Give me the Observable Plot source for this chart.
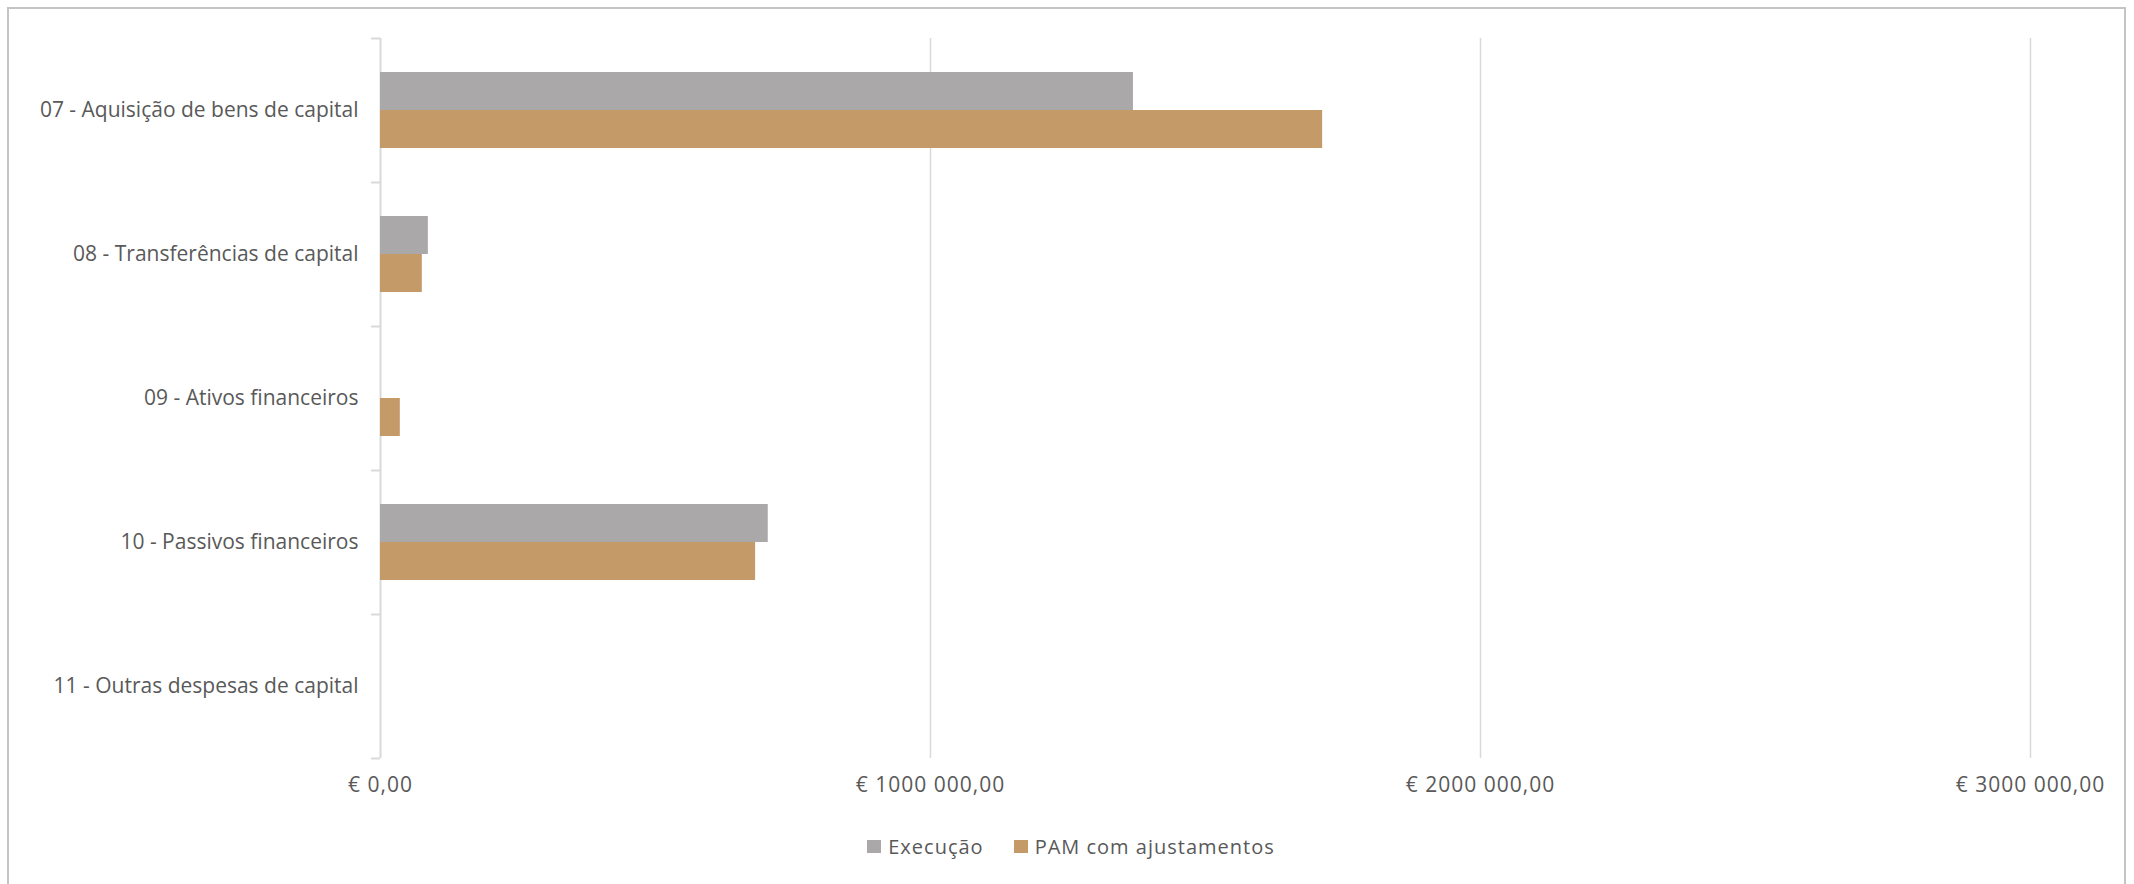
<!DOCTYPE html>
<html>
<head>
<meta charset="utf-8">
<script src="https://cdn.jsdelivr.net/npm/d3@7"></script>
<script src="https://cdn.jsdelivr.net/npm/@observablehq/plot@0.6"></script>
<style>
  html, body { margin: 0; padding: 0; background: #fff; }
  #wrap { position: relative; width: 2134px; height: 884px; overflow: hidden; font-family: "Open Sans", Lato, sans-serif; }
  #border { position: absolute; left: 7px; top: 7px; width: 2119px; height: 920px; border: 2px solid #c4c4c4; box-sizing: border-box; }
  #chart { position: absolute; left: 0; top: 0; }
  #legend { position: absolute; left: 0; top: 820px; width: 2142px; height: 64px; display: flex; justify-content: center; align-items: flex-start; padding-top: 13px; box-sizing: border-box; color: #595959; font-size: 20px; letter-spacing: 1px; }
  .item { display: flex; align-items: center; margin: 0 15px; }
  .sw { width: 14px; height: 13px; margin-right: 7px; }
  g[aria-label="x-axis tick label"] text { letter-spacing: 1px; }
</style>
</head>
<body>
<div id="wrap">
  <div id="border"></div>
  <div id="chart"></div>
  <div id="legend"></div>
</div>
<script>
const categories = [
  "07 - Aquisição de bens de capital",
  "08 - Transferências de capital",
  "09 - Ativos financeiros",
  "10 - Passivos financeiros",
  "11 - Outras despesas de capital"
];
const seriesNames = ["Execução", "PAM com ajustamentos"];
const execucao = [1369000, 87000, 0, 705000, 0];
const pam = [1713000, 76000, 36000, 682000, 0];
const tickValues = [0, 1000000, 2000000, 3000000];
const tickLabels = ["€ 0,00", "€ 1000 000,00", "€ 2000 000,00", "€ 3000 000,00"];
const colors = ["#aaa8a8", "#c39a68"];

const W = 2134, H = 820, MT = 38, MB = 62, ML = 380, MR = 104;
const step = (H - MT - MB) / categories.length;
const barH = step * 0.264;
const pad = (step - 2 * barH) / 2;

const rows = [];
categories.forEach((c, i) => {
  rows.push({category: c, series: seriesNames[0], value: execucao[i]});
  rows.push({category: c, series: seriesNames[1], value: pam[i]});
});

const textColor = "#595959";
const grid = "#d9d9d9";
const fontSize = 21;

const chart = Plot.plot({
  width: W,
  height: H,
  marginTop: MT,
  marginBottom: MB,
  marginLeft: ML,
  marginRight: MR,
  style: {fontFamily: "'Open Sans', Lato, sans-serif", fontSize: fontSize + "px", color: textColor, background: "transparent"},
  x: {domain: [0, 3000000], label: null},
  y: {domain: categories, padding: 0, label: null},
  marks: [
    Plot.gridX(tickValues.slice(1), {stroke: grid, strokeOpacity: 1, strokeWidth: 1.5}),
    Plot.ruleX([0], {stroke: grid, strokeWidth: 2}),
    Plot.ruleY(categories, {y: (d) => d, x1: 0, x2: 0, insetLeft: -9, dy: -step / 2, stroke: grid, strokeWidth: 2}),
    Plot.ruleY(categories.slice(-1), {y: (d) => d, x1: 0, x2: 0, insetLeft: -9, dy: step / 2, stroke: grid, strokeWidth: 2}),
    Plot.barX(rows.filter(d => d.series === seriesNames[0]), {
      x: "value", y: "category", fill: colors[0], insetTop: pad, insetBottom: pad + barH
    }),
    Plot.barX(rows.filter(d => d.series === seriesNames[1]), {
      x: "value", y: "category", fill: colors[1], insetTop: pad + barH, insetBottom: pad
    }),
    Plot.axisX(tickValues, {tickSize: 0, tickPadding: 19, fill: textColor, fontSize, label: null,
      tickFormat: (d) => tickLabels[tickValues.indexOf(d)]}),
    Plot.axisY({tickSize: 0, tickPadding: 22, fill: textColor, fontSize, label: null})
  ]
});
document.getElementById("chart").appendChild(chart);

const legend = document.getElementById("legend");
seriesNames.forEach((s, i) => {
  const item = document.createElement("div");
  item.className = "item";
  const sw = document.createElement("div");
  sw.className = "sw";
  sw.style.background = colors[i];
  const t = document.createElement("span");
  t.textContent = s;
  item.appendChild(sw);
  item.appendChild(t);
  legend.appendChild(item);
});
</script>
</body>
</html>
